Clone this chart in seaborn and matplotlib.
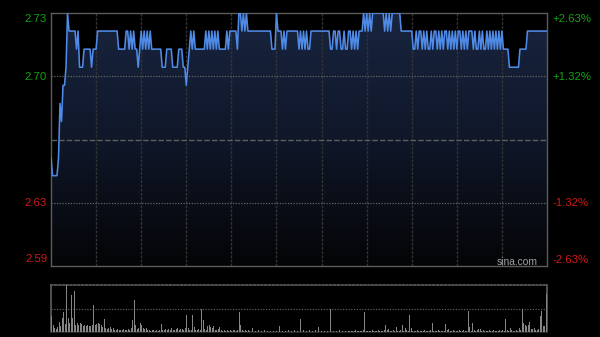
import numpy as np
import pandas as pd
import matplotlib
matplotlib.use("Agg")
import matplotlib.pyplot as plt
from matplotlib.colors import LinearSegmentedColormap
import seaborn as sns

# ---------------- data ----------------
prev_close = 2.665
y_labels_left = ["2.73", "2.70", "2.63", "2.59"]
y_labels_right = ["+2.63%", "+1.32%", "-1.32%", "-2.63%"]
watermark = "sina.com"

price = [
    2.655, 2.645, 2.645, 2.645, 2.645, 2.655, 2.685, 2.675, 2.695, 2.695,
    2.705, 2.735, 2.725, 2.725, 2.725, 2.725, 2.725, 2.715, 2.725, 2.705,
    2.705, 2.705, 2.715, 2.715, 2.715, 2.715, 2.715, 2.705, 2.715, 2.715,
    2.715, 2.725, 2.725, 2.725, 2.725, 2.725, 2.725, 2.725, 2.725, 2.725,
    2.725, 2.725, 2.725, 2.725, 2.725, 2.715, 2.715, 2.715, 2.715, 2.715,
    2.725, 2.725, 2.715, 2.725, 2.715, 2.725, 2.715, 2.715, 2.705, 2.715,
    2.725, 2.715, 2.725, 2.715, 2.725, 2.715, 2.725, 2.715, 2.715, 2.715,
    2.715, 2.715, 2.715, 2.715, 2.705, 2.705, 2.705, 2.715, 2.715, 2.715,
    2.715, 2.705, 2.705, 2.705, 2.705, 2.715, 2.715, 2.715, 2.705, 2.705,
    2.695, 2.705, 2.715, 2.725, 2.715, 2.725, 2.715, 2.715, 2.715, 2.715,
    2.715, 2.715, 2.715, 2.725, 2.715, 2.725, 2.715, 2.725, 2.715, 2.725,
    2.715, 2.725, 2.715, 2.715, 2.715, 2.715, 2.715, 2.725, 2.715, 2.725,
    2.725, 2.725, 2.725, 2.725, 2.715, 2.735, 2.735, 2.725, 2.735, 2.725,
    2.735, 2.725, 2.725, 2.725, 2.725, 2.725, 2.725, 2.725, 2.725, 2.725,
    2.725, 2.725, 2.725, 2.725, 2.725, 2.725, 2.725, 2.715, 2.715, 2.715,
    2.735, 2.725, 2.725, 2.725, 2.715, 2.725, 2.715, 2.725, 2.725, 2.725,
    2.725, 2.725, 2.725, 2.725, 2.725, 2.715, 2.725, 2.715, 2.725, 2.715,
    2.725, 2.715, 2.715, 2.725, 2.725, 2.725, 2.725, 2.725, 2.725, 2.725,
    2.725, 2.725, 2.725, 2.725, 2.725, 2.725, 2.715, 2.715, 2.725, 2.725,
    2.715, 2.725, 2.725, 2.715, 2.715, 2.725, 2.715, 2.715, 2.725, 2.725,
    2.715, 2.725, 2.715, 2.725, 2.715, 2.725, 2.725, 2.725, 2.735, 2.725,
    2.735, 2.725, 2.735, 2.725, 2.735, 2.735, 2.735, 2.735, 2.735, 2.735,
    2.735, 2.735, 2.725, 2.735, 2.725, 2.735, 2.725, 2.735, 2.735, 2.735,
    2.735, 2.735, 2.735, 2.725, 2.725, 2.725, 2.725, 2.725, 2.725, 2.725,
    2.725, 2.715, 2.715, 2.725, 2.715, 2.725, 2.725, 2.715, 2.725, 2.715,
    2.725, 2.715, 2.715, 2.725, 2.715, 2.725, 2.725, 2.715, 2.725, 2.715,
    2.725, 2.715, 2.725, 2.725, 2.715, 2.725, 2.715, 2.725, 2.715, 2.725,
    2.715, 2.725, 2.725, 2.715, 2.725, 2.715, 2.725, 2.715, 2.725, 2.725,
    2.725, 2.715, 2.725, 2.715, 2.715, 2.725, 2.715, 2.725, 2.715, 2.715,
    2.725, 2.715, 2.725, 2.715, 2.725, 2.715, 2.725, 2.715, 2.725, 2.715,
    2.725, 2.715, 2.715, 2.715, 2.715, 2.705, 2.705, 2.705, 2.705, 2.705,
    2.705, 2.705, 2.715, 2.715, 2.715, 2.715, 2.715, 2.725, 2.725, 2.725,
    2.725, 2.725, 2.725, 2.725, 2.725, 2.725, 2.725, 2.725, 2.725, 2.725,
    2.725,
]

volume = [
    33, 15, 8, 6, 10, 22, 12, 30, 43, 18,
    100, 30, 20, 79, 30, 87, 15, 20, 15, 20,
    18, 12, 14, 12, 15, 13, 12, 14, 57, 15,
    18, 20, 16, 14, 10, 28, 8, 6, 8, 10,
    7, 8, 5, 4, 6, 5, 4, 5, 6, 4,
    5, 6, 4, 8, 25, 68, 15, 6, 8, 20,
    15, 8, 6, 8, 5, 4, 3, 5, 4, 3,
    4, 3, 5, 18, 4, 5, 7, 4, 6, 5,
    8, 4, 5, 6, 8, 5, 7, 6, 4, 8,
    36, 8, 5, 4, 37, 10, 4, 5, 6, 5,
    50, 25, 6, 5, 12, 15, 10, 8, 12, 5,
    4, 6, 10, 4, 3, 4, 3, 4, 3, 4,
    3, 4, 5, 3, 4, 43, 15, 4, 3, 5,
    3, 4, 3, 4, 8, 3, 2, 3, 4, 2,
    3, 2, 4, 3, 2, 3, 2, 3, 2, 4,
    3, 15, 12, 15, 3, 4, 2, 3, 4, 3,
    2, 3, 4, 3, 2, 3, 27, 10, 4, 3,
    2, 3, 4, 3, 2, 3, 4, 5, 10, 3,
    2, 4, 3, 40, 3, 4, 50, 3, 2, 3,
    2, 3, 4, 2, 3, 2, 3, 4, 2, 3,
    2, 3, 2, 4, 3, 2, 3, 2, 4, 43,
    3, 2, 3, 2, 4, 3, 2, 3, 4, 2,
    3, 2, 5, 15, 4, 6, 3, 2, 4, 3,
    10, 3, 2, 4, 15, 3, 8, 4, 3, 37,
    8, 3, 2, 3, 4, 2, 3, 2, 3, 4,
    2, 3, 3, 4, 20, 3, 2, 3, 4, 2,
    3, 2, 3, 18, 4, 6, 3, 2, 4, 3,
    2, 3, 4, 2, 3, 4, 3, 2, 45, 10,
    3, 20, 4, 3, 5, 6, 6, 3, 4, 3,
    2, 3, 4, 3, 2, 4, 3, 2, 3, 4,
    3, 4, 3, 28, 4, 3, 8, 4, 3, 2,
    4, 3, 8, 4, 50, 20, 15, 12, 15, 22,
    7, 6, 8, 4, 5, 6, 35, 45, 12, 12,
    80,
]

minutes = np.arange(len(price))
df = pd.DataFrame({"minute": minutes, "price": price, "volume": volume})

y_low, y_high = 2.595, 2.735
n_max = 330

# ---------------- figure ----------------
sns.set_theme(style="dark")
plt.rcParams["font.family"] = ["Liberation Sans", "DejaVu Sans"]

fig = plt.figure(figsize=(6.0, 3.37), dpi=100, facecolor="black")
ax = fig.add_axes([51 / 600, 1 - 266 / 337, 496 / 600, 253 / 337])
axv = fig.add_axes([51 / 600, 1 - 332 / 337, 496 / 600, 47 / 337])

for a in (ax, axv):
    a.set_facecolor("black")
    a.set_xticks([])
    a.set_yticks([])
    a.grid(False)

# gradient fill under the price line
cmap = LinearSegmentedColormap.from_list(
    "navy", [(0.015, 0.018, 0.025), (0.06, 0.09, 0.16), (0.095, 0.145, 0.25)])
grad = np.linspace(0, 1, 256).reshape(-1, 1)
img = ax.imshow(grad, aspect="auto", cmap=cmap, origin="lower",
                extent=[0, n_max, y_low, y_high], zorder=1)
poly = ax.fill_between(df["minute"], df["price"], y_low, color="none", lw=0)
clip_path = poly.get_paths()[0]
img.set_clip_path(clip_path, transform=ax.transData)

# grid lines
for m in range(30, n_max, 30):
    ax.axvline(m, color="#333333", lw=1.0, ls=(0, (2, 1)), zorder=2)
for lv in (2.70, 2.63):
    ax.axhline(lv, color="#666666", lw=0.9, ls=(0, (1, 1.2)), zorder=2)
ax.axhline(prev_close, color="#5e5e5e", lw=1.0, ls=(0, (4, 1.5)), zorder=2)

sns.lineplot(data=df, x="minute", y="price", ax=ax, color="#4f8ae6",
             lw=1.15, zorder=4, legend=False)
ax.set_xlim(0, n_max)
ax.set_ylim(y_low, y_high)
ax.set_xlabel("")
ax.set_ylabel("")

for s in ax.spines.values():
    s.set_visible(True)
    s.set_color("#5c5c5c")
    s.set_linewidth(1.0)

# tick labels
green = "#13a313"
red = "#d01818"
fs = 8.2
left_pos = [0.978, 0.749, 0.249, 0.026]
right_pos = [0.976, 0.747, 0.249, 0.024]
left_cols = [green, green, red, red]
for lab, yp, c in zip(y_labels_left, left_pos, left_cols):
    ax.text(-0.008, yp, lab, transform=ax.transAxes, ha="right", va="center",
            color=c, fontsize=fs)
for lab, yp, c in zip(y_labels_right, right_pos, left_cols):
    ax.text(1.012, yp, lab, transform=ax.transAxes, ha="left", va="center",
            color=c, fontsize=fs)
ax.text(0.981, 0.017, watermark, transform=ax.transAxes, ha="right",
        va="center", color="#a0a0a0", fontsize=7.4, zorder=5)

# volume panel
sns.barplot(data=df, x="minute", y="volume", ax=axv, native_scale=True,
            color="#858585", saturation=1, width=0.6, linewidth=0,
            errorbar=None, zorder=3)
axv.set_xlim(-0.5, n_max + 0.5)
axv.set_ylim(0, 100)
axv.set_xlabel("")
axv.set_ylabel("")
axv.set_xticks([])
axv.set_yticks([])
axv.axhline(50, color="#5a5a5a", lw=0.9, ls=(0, (1, 1.2)), zorder=1)
axv.spines["top"].set_visible(True)
axv.spines["top"].set_color("#5a5a5a")
axv.spines["top"].set_linestyle((0, (1, 1.2)))
axv.spines["left"].set_visible(True)
axv.spines["left"].set_color("#5c5c5c")
axv.spines["right"].set_visible(True)
axv.spines["right"].set_color("#5c5c5c")
axv.spines["bottom"].set_visible(True)
axv.spines["bottom"].set_color("#2a2a2a")

fig.savefig("out.png", dpi=100, facecolor="black")
